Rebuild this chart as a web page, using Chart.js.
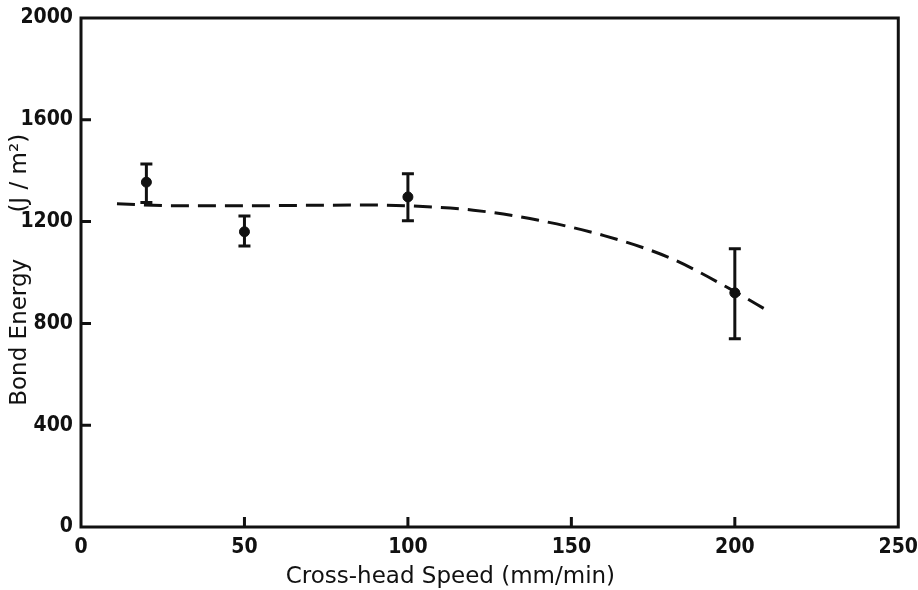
<!DOCTYPE html>
<html>
<head>
<meta charset="utf-8">
<script src="https://cdn.jsdelivr.net/npm/chart.js@4.4.0/dist/chart.umd.min.js"></script>
<style>
  html, body { margin: 0; padding: 0; background: #fff; }
  #wrap { width: 918px; height: 590px; }
</style>
</head>
<body>
<div id="wrap"><canvas id="bondChart" width="918" height="590"></canvas></div>
<script>
// measured points (cross-head speed mm/min, bond energy J/m2)
var speeds = [20, 50, 100, 200];
var energy = [1355, 1160, 1297, 920];
var errLow = [1275, 1104, 1203, 740];
var errHigh = [1426, 1222, 1388, 1093];

// dashed trend curve
var curveX = [11, 30, 50, 70, 90, 100, 120, 140, 160, 180, 200, 210];
var curveY = [1270, 1262, 1262, 1264, 1265, 1262, 1245, 1205, 1145, 1058, 925, 850];

var xTicks = [0, 50, 100, 150, 200, 250];
var yTicks = [0, 400, 800, 1200, 1600, 2000];

var xTitle = 'Cross-head Speed (mm/min)';
var yTitle = 'Bond Energy';
var yUnit = '(J / m²)';

var ink = '#111';
var titleFont = '23px "DejaVu Sans"';

// error bars, inward ticks, frame box and axis titles
var extras = {
    id: 'extras',
    afterDatasetsDraw: function(chart) {
        var ctx = chart.ctx;
        var xs = chart.scales.x, ys = chart.scales.y;
        var a = chart.chartArea;
        ctx.save();
        ctx.strokeStyle = ink;
        ctx.lineWidth = 3;
        for (var i = 0; i < speeds.length; i++) {
            var px = xs.getPixelForValue(speeds[i]);
            var top = ys.getPixelForValue(errHigh[i]);
            var bot = ys.getPixelForValue(errLow[i]);
            ctx.beginPath();
            ctx.moveTo(px, top); ctx.lineTo(px, bot);
            ctx.moveTo(px - 6, top); ctx.lineTo(px + 6, top);
            ctx.moveTo(px - 6, bot); ctx.lineTo(px + 6, bot);
            ctx.stroke();
        }
        // frame
        ctx.strokeRect(a.left, a.top, a.right - a.left, a.bottom - a.top);
        // inward ticks
        ctx.beginPath();
        yTicks.forEach(function(v) {
            if (v === 0 || v === 2000) return;
            var py = ys.getPixelForValue(v);
            ctx.moveTo(a.left, py); ctx.lineTo(a.left + 10, py);
        });
        xTicks.forEach(function(v) {
            if (v === 0 || v === 250) return;
            var px = xs.getPixelForValue(v);
            ctx.moveTo(px, a.bottom); ctx.lineTo(px, a.bottom - 10);
        });
        ctx.stroke();

        // titles
        ctx.fillStyle = ink;
        ctx.font = titleFont;
        ctx.textAlign = 'center';
        ctx.textBaseline = 'middle';
        ctx.fillText(xTitle, xs.getPixelForValue(113), a.bottom + 50);
        ctx.save();
        ctx.translate(20, ys.getPixelForValue(765));
        ctx.rotate(-Math.PI / 2);
        ctx.fillText(yTitle, 0, 0);
        ctx.restore();
        ctx.save();
        ctx.translate(20, ys.getPixelForValue(1390));
        ctx.rotate(-Math.PI / 2);
        ctx.fillText(yUnit, 0, 0);
        ctx.restore();
        ctx.restore();
    }
};

var tickFont = { family: 'DejaVu Sans Condensed', size: 21, weight: 'bold' };

var ctx = document.getElementById('bondChart').getContext('2d');
var chart = new Chart(ctx, {
    type: 'scatter',
    data: {
        datasets: [{
            type: 'line',
            data: curveX.map(function(x, i) { return { x: x, y: curveY[i] }; }),
            borderColor: ink,
            borderWidth: 3,
            borderDash: [18, 9],
            cubicInterpolationMode: 'monotone',
            pointRadius: 0,
            fill: false
        }, {
            data: speeds.map(function(x, i) { return { x: x, y: energy[i] }; }),
            backgroundColor: ink,
            borderColor: ink,
            pointRadius: 5,
            pointHoverRadius: 5
        }]
    },
    options: {
        responsive: false,
        animation: false,
        layout: { padding: { top: 18, right: 17, left: 0, bottom: 0 } },
        plugins: { legend: { display: false }, tooltip: { enabled: false } },
        scales: {
            x: {
                type: 'linear',
                min: 0, max: 250,
                afterBuildTicks: function(s) { s.ticks = xTicks.map(function(v) { return { value: v }; }); },
                afterFit: function(s) { s.height = 63; },
                grid: { display: false },
                border: { display: false },
                ticks: { color: ink, padding: 0, font: tickFont, callback: function(v) { return String(v); } }
            },
            y: {
                type: 'linear',
                min: 0, max: 2000,
                afterBuildTicks: function(s) { s.ticks = yTicks.map(function(v) { return { value: v }; }); },
                afterFit: function(s) { s.width = 81; },
                grid: { display: false },
                border: { display: false },
                ticks: { color: ink, padding: 0, font: tickFont, callback: function(v) { return String(v); } }
            }
        }
    },
    plugins: [extras]
});
</script>
</body>
</html>
